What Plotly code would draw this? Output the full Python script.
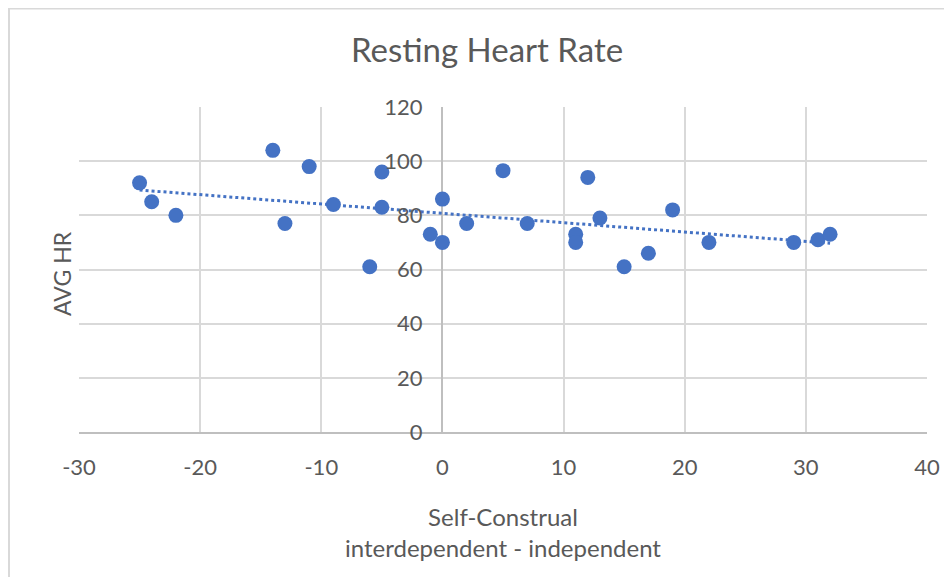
import numpy as np
import plotly.graph_objects as go

# self-construal score (interdependent - independent) vs average resting HR
self_construal = [-25, -24, -22, -14, -13, -11, -9, -6, -5, -5, -1, 0, 0, 2, 5,
                  7, 11, 11, 12, 13, 15, 17, 19, 22, 29, 31, 32]
avg_hr = [92, 85, 80, 104, 77, 98, 84, 61, 96, 83, 73, 86, 70, 77, 96.5,
          77, 73, 70, 94, 79, 61, 66, 82, 70, 70, 71, 73]

x_ticks = [-30, -20, -10, 0, 10, 20, 30, 40]
y_ticks = [0, 20, 40, 60, 80, 100, 120]

blue = "#4472C4"
grey_txt = "#595959"
grid = "#d9d9d9"
font = "Lato"

# linear trendline (least squares) over the data span
slope, intercept = np.polyfit(self_construal, avg_hr, 1)
trend_x = np.array([min(self_construal), max(self_construal)])
trend_y = slope * trend_x + intercept

fig = go.Figure()

fig.add_trace(go.Scatter(
    x=trend_x, y=trend_y, mode="lines",
    line=dict(color=blue, width=3, dash="dot"),
    hoverinfo="skip", showlegend=False,
))

fig.add_trace(go.Scatter(
    x=self_construal, y=avg_hr, mode="markers",
    marker=dict(color=blue, size=15, line=dict(width=0)),
    showlegend=False,
))

# page body adds 8px margin, so the figure is 944x569 and sits at (8, 8)
W, H = 944, 569
L, T, R, B = 71, 99, 25, 145
pw, ph = W - L - R, H - T - B

# outer chart frame (like the Excel chart border)
fig.add_shape(type="rect", xref="paper", yref="paper",
              x0=(1 - L) / pw, x1=1.2, y0=-0.6, y1=1 + (T - 0.5) / ph,
              line=dict(color="#d9d9d9", width=2), layer="below")

fig.update_layout(
    width=W, height=H,
    margin=dict(l=L, r=R, t=T, b=B),
    paper_bgcolor="white", plot_bgcolor="white",
    font=dict(family=font, color=grey_txt, size=22),
    title=dict(text="Resting Heart Rate", x=(487 - 8) / W,
               xanchor="center", y=1 - 42 / H, yanchor="middle",
               font=dict(size=33, color=grey_txt, family=font)),
    xaxis=dict(
        range=[-30, 40], tickvals=x_ticks, ticktext=[str(v) for v in x_ticks],
        showgrid=True, gridcolor=grid, gridwidth=2,
        zeroline=True, zerolinecolor="#bfbfbf", zerolinewidth=2,
        showline=True, linecolor="#bfbfbf", linewidth=2,
        ticks="", ticklabelstandoff=15,
        tickfont=dict(size=22, color=grey_txt),
        title=dict(text="Self-Construal<br>interdependent - independent",
                   font=dict(size=24, color=grey_txt), standoff=30),
    ),
    yaxis=dict(
        range=[0, 120], tickvals=y_ticks,
        anchor="free", position=30 / 70,
        showgrid=True, gridcolor=grid, gridwidth=2,
        zeroline=False, showline=False,
        ticks="", ticklabelstandoff=20,
        tickfont=dict(size=22, color=grey_txt),
        title=None,
    ),
    annotations=[dict(
        text="AVG HR", xref="paper", yref="paper",
        x=(62 - 8 - L) / pw, y=(424 - 266) / ph, textangle=-90,
        showarrow=False, font=dict(size=23, color=grey_txt, family=font),
        xanchor="center", yanchor="middle",
    )],
)

fig.write_html("out.html")
